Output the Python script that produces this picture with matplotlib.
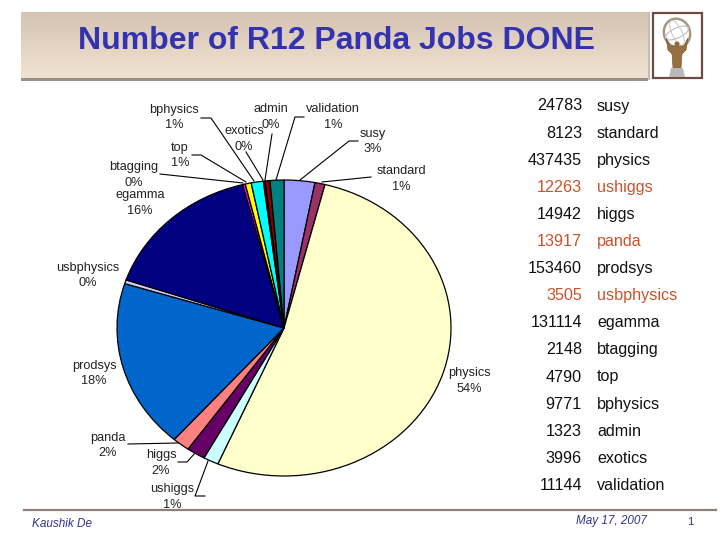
import matplotlib
matplotlib.use('Agg')
import matplotlib.pyplot as plt
import numpy as np
from matplotlib.patches import Rectangle, Ellipse, Polygon

plt.rcParams['font.family'] = ['Liberation Sans', 'DejaVu Sans']

names = ['susy', 'standard', 'physics', 'ushiggs', 'higgs', 'panda', 'prodsys', 'usbphysics',
         'egamma', 'btagging', 'top', 'bphysics', 'admin', 'exotics', 'validation']
jobs = [24783, 8123, 437435, 12263, 14942, 13917, 153460, 3505,
        131114, 2148, 4790, 9771, 1323, 3996, 11144]
percents = ['3%', '1%', '54%', '1%', '2%', '2%', '18%', '0%',
            '16%', '0%', '1%', '1%', '0%', '0%', '1%']
colors = ['#9999FF', '#993366', '#FFFFCC', '#CCFFFF', '#660066', '#FF8080', '#0066CC', '#CCCCFF',
          '#000080', '#FF00FF', '#FFFF00', '#00FFFF', '#800080', '#800000', '#008080']
highlighted = ['ushiggs', 'panda', 'usbphysics']

# label centre x, y of first line, then leader line points (pixels)
label_pos = {
    'susy': (373, 134), 'standard': (401, 171), 'physics': (469, 373), 'ushiggs': (172, 489),
    'higgs': (161, 455), 'panda': (108, 438), 'prodsys': (94, 366), 'usbphysics': (88, 268),
    'egamma': (140, 195), 'btagging': (134, 167), 'top': (180, 148), 'bphysics': (174, 110),
    'admin': (271, 109), 'exotics': (244, 131), 'validation': (333, 109),
}
leaders = {
    'susy': [(358, 141), (349, 141), (300, 180)],
    'standard': [(371, 177), (322, 182)],
    'ushiggs': [(205, 496), (195, 496), (208, 461)],
    'higgs': [(178, 462), (187, 462), (196, 452)],
    'panda': [(128, 444), (178, 443)],
    'btagging': [(160, 174), (243, 183)],
    'top': [(192, 155), (201, 155), (246, 182)],
    'bphysics': [(201, 118), (211, 118), (254, 181)],
    'admin': [(272, 134), (270, 147), (265, 180)],
    'exotics': [(246, 152), (263, 180)],
    'validation': [(304, 117), (295, 117), (276, 180)],
}

fig = plt.figure(figsize=(7.2, 5.4), dpi=100, facecolor='white')

bg = fig.add_axes([0, 0, 1, 1])
bg.set_xlim(0, 720)
bg.set_ylim(540, 0)
bg.axis('off')

# title banner
grad = np.linspace(0, 1, 64).reshape(-1, 1)
top_col = np.array([0.835, 0.765, 0.705])
bot_col = np.array([0.945, 0.890, 0.825])
bg.imshow(top_col + grad[..., None] * (bot_col - top_col), extent=(21, 648, 79, 12),
          aspect='auto', zorder=1)
bg.add_patch(Rectangle((21, 78), 627, 2.5, color='#9B9088', lw=0, zorder=2))
bg.add_patch(Rectangle((648, 12), 1.5, 68, color='#C9BDB2', lw=0, zorder=2))
bg.set_xlim(0, 720)
bg.set_ylim(540, 0)
bg.text(336, 41, 'Number of R12 Panda Jobs DONE', color='#3333B2', fontsize=23,
        fontweight='bold', ha='center', va='center', zorder=3)

# logo box
bg.add_patch(Rectangle((653, 13), 49, 65, facecolor='white', edgecolor='#6E4A42', lw=1.6, zorder=2))
bg.add_patch(Ellipse((677, 33), 26, 29, angle=-20, fill=False, edgecolor='#A8977C', lw=1.8, zorder=3))
bg.add_patch(Ellipse((677, 33), 25, 10, angle=-25, fill=False, edgecolor='#BDBDBD', lw=0.8, zorder=3))
bg.add_patch(Ellipse((677, 33), 10, 27, angle=-25, fill=False, edgecolor='#C8C8C8', lw=0.7, zorder=3))
bg.add_patch(Polygon([(666, 38), (670, 46), (674, 46), (680, 46), (684, 46), (688, 38), (686, 50),
                      (682, 54), (681, 68), (673, 68), (672, 54), (668, 50)],
                     facecolor='#96703F', edgecolor='#6D5030', lw=0.4, zorder=3))
bg.add_patch(Ellipse((677, 44), 5, 5, facecolor='#8A663F', lw=0, zorder=4))
bg.add_patch(Polygon([(671, 68), (683, 68), (685, 77), (669, 77)], facecolor='#B9B9B9', lw=0, zorder=3))

# footer
bg.plot([24, 716], [510, 510], color='#8F7F7D', lw=1.6, zorder=2)
bg.text(32, 524, 'Kaushik De', color='#33338F', fontsize=8.5, style='italic', ha='left', va='center')
bg.text(647, 521, 'May 17, 2007', color='#33338F', fontsize=8.5, style='italic', ha='right', va='center')
bg.text(693, 522, '1', color='#333366', fontsize=8, ha='right', va='center')

# job count table
for i, (n, v) in enumerate(zip(names, jobs)):
    y = 106 + i * 27.1
    c = '#C9532B' if n in highlighted else '#111111'
    bg.text(582, y, str(v), color=c, fontsize=11.6, ha='right', va='center')
    bg.text(597, y, n, color=c, fontsize=11.6, ha='left', va='center')

# pie, stretched to an ellipse
ax = fig.add_axes([117 / 720, 1 - 476 / 540, 334 / 720, 296 / 540])
ax.pie(jobs, colors=colors, startangle=90, counterclock=False, radius=1,
       wedgeprops={'edgecolor': 'black', 'linewidth': 0.9})
ax.set_aspect('auto')
ax.set_xlim(-1, 1)
ax.set_ylim(-1, 1)

# outside labels
for n, p in zip(names, percents):
    x, y = label_pos[n]
    bg.text(x, y, n, color='#222222', fontsize=9.2, ha='center', va='center', zorder=5)
    bg.text(x, y + 15.5, p, color='#222222', fontsize=9.2, ha='center', va='center', zorder=5)
for n, pts in leaders.items():
    bg.plot([q[0] for q in pts], [q[1] for q in pts], color='black', lw=0.8, zorder=4)

bg.set_xlim(0, 720)
bg.set_ylim(540, 0)
fig.savefig('out.png', dpi=100)
